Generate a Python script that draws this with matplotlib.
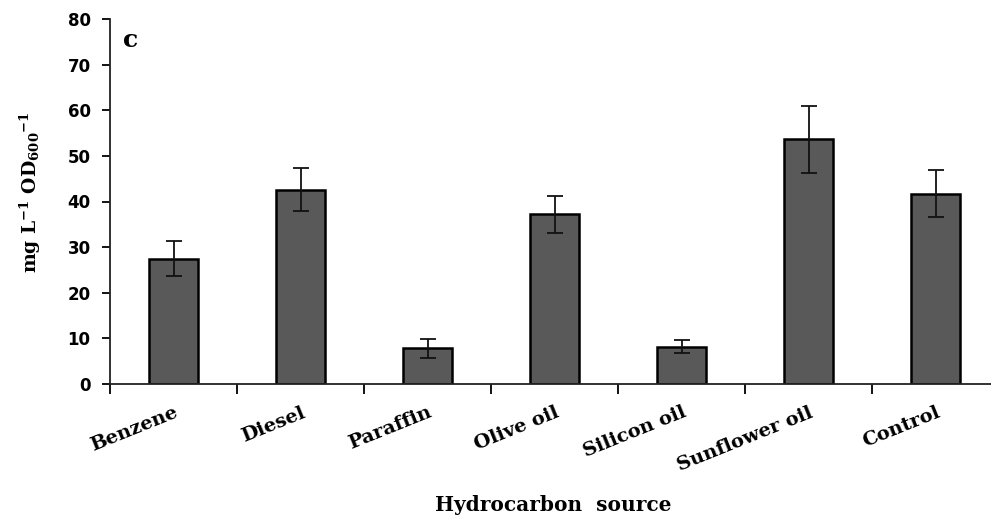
import matplotlib
matplotlib.use('Agg')
import matplotlib.pyplot as plt
import numpy as np

# data
sources = ['Benzene', 'Diesel', 'Paraffin', 'Olive oil', 'Silicon oil', 'Sunflower oil', 'Control']
values = [27.5, 42.6, 7.8, 37.2, 8.2, 53.6, 41.7]
errors = [3.9, 4.7, 2.1, 4.0, 1.5, 7.3, 5.1]

serif = 'DejaVu Serif'
plt.rcParams['mathtext.fontset'] = 'custom'
plt.rcParams['mathtext.rm'] = 'DejaVu Serif:bold'
plt.rcParams['mathtext.it'] = 'DejaVu Serif:bold'
plt.rcParams['mathtext.bf'] = 'DejaVu Serif:bold'
plt.rcParams['mathtext.default'] = 'rm'

fig = plt.figure(figsize=(9.91, 5.19), dpi=100)
ax = fig.add_axes([110 / 991, 135 / 519, 889 / 991, 365 / 519])

x = np.arange(len(sources)) + 0.5
ax.bar(x, values, width=0.39, color='#595959', edgecolor='black', linewidth=1.8,
       yerr=errors, capsize=5.5, error_kw=dict(elinewidth=1.3, capthick=1.3, ecolor='#111111'))

ax.set_xlim(0, 7)
ax.set_ylim(0, 80)
ax.set_yticks(range(0, 81, 10))
ax.set_xticks(range(0, 8))
ax.set_xticklabels([])
ax.set_xticks(x + 0.03, minor=True)
ax.set_xticklabels(sources, minor=True, rotation=22, ha='right', va='center',
                   rotation_mode='anchor', fontfamily=serif, fontweight='bold', fontsize=14)
ax.tick_params(axis='x', which='minor', length=0, pad=20)
ax.tick_params(axis='x', which='major', length=7, width=1.3, direction='out')
ax.tick_params(axis='y', length=6, width=1.3, direction='out', labelsize=12, pad=8)
for lab in ax.get_yticklabels():
    lab.set_fontweight('bold')

for side in ['top', 'right']:
    ax.spines[side].set_visible(False)
for side in ['left', 'bottom']:
    ax.spines[side].set_linewidth(1.3)
    ax.spines[side].set_color('#222222')

ax.text(0.1, 75.5, 'c', fontfamily=serif, fontweight='bold', fontsize=18, va='center')

fig.text(30 / 991, 1 - 192 / 519, r'mg L$^{-1}$ OD$_{600}$$^{-1}$', fontfamily=serif,
         fontweight='bold', fontsize=13.5, rotation=90, ha='center', va='center')
fig.text(553 / 991, 1 - 505 / 519, 'Hydrocarbon  source', fontfamily=serif,
         fontweight='bold', fontsize=14.5, ha='center', va='center')

fig.savefig('out.png', dpi=100)
